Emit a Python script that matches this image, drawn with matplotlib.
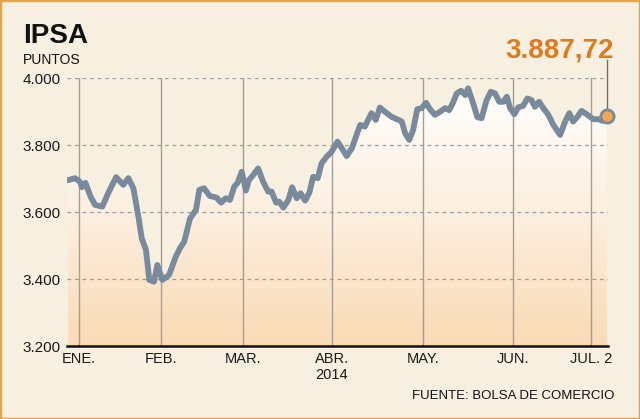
import matplotlib
matplotlib.use("Agg")
import matplotlib.pyplot as plt
import numpy as np
from matplotlib.colors import LinearSegmentedColormap
from matplotlib.patches import Polygon, Rectangle

# ── data (IPSA, puntos) ───────────────────────────────────────────────────────
sesion = [0, 1.6, 2.8, 3.3, 4.1, 5.3, 6.4, 8.1, 9.5, 11.4, 13.1, 14.3, 15.5, 16.7,
          17.5, 18.5, 19.3, 20.4, 21.2, 22.4, 24.0, 25.6, 26.6, 27.6, 29.0, 30.4,
          31.2, 32.3, 33.7, 35.3, 36.4, 37.5, 38.5, 39.5, 40.3, 41.3, 42.3, 43.0,
          44.0, 45.2, 46.4, 47.6, 48.4, 49.5, 50.2, 51.2, 52.4, 53.3, 54.4, 55.3,
          56.4, 57.4, 58.3, 59.4, 60.3, 61.5, 62.7, 64.1, 65.3, 66.3, 67.5, 69.5,
          70.6, 72.2, 73.2, 74.2, 75.4, 77.0, 78.6, 79.4, 80.2, 81.2, 82.1, 83.1,
          84.1, 85.2, 86.1, 87.3, 88.5, 89.7, 90.7, 91.7, 92.5, 93.5, 94.5, 95.2,
          96.4, 97.4, 98.4, 99.6, 100.6, 101.6, 102.6, 103.6, 104.4, 105.2, 106.2,
          107.1, 108.3, 109.3, 110.3, 111.1, 112.1, 113.1, 114.3, 115.5, 117.1,
          118.3, 119.3, 120.2, 121.2, 122.2, 123.4, 125.0, 126.2, 127.2, 128.2]
ipsa = [3695, 3701, 3690, 3674, 3687, 3646, 3621, 3616, 3656, 3704, 3681, 3701,
        3671, 3586, 3521, 3487, 3397, 3392, 3442, 3397, 3412, 3467, 3492, 3511,
        3581, 3606, 3666, 3671, 3648, 3643, 3628, 3641, 3636, 3675, 3687, 3720,
        3664, 3695, 3710, 3730, 3690, 3661, 3661, 3628, 3631, 3613, 3636, 3674,
        3641, 3656, 3634, 3658, 3705, 3701, 3745, 3765, 3780, 3810, 3787, 3767,
        3790, 3860, 3855, 3895, 3875, 3912, 3899, 3884, 3875, 3870, 3835, 3815,
        3845, 3907, 3910, 3926, 3907, 3890, 3899, 3910, 3904, 3929, 3954, 3962,
        3949, 3969, 3924, 3883, 3880, 3934, 3959, 3954, 3929, 3929, 3944, 3910,
        3892, 3912, 3917, 3939, 3934, 3914, 3929, 3910, 3890, 3860, 3830, 3870,
        3895, 3870, 3884, 3902, 3892, 3877, 3877, 3872, 3887.72]

mes_pos = [2.5, 22.1, 41.6, 62.8, 84.4, 105.8, 124.4]
mes_labels = ["ENE.", "FEB.", "MAR.", "ABR.\n2014", "MAY.", "JUN.", "JUL. 2"]
y_ticks = [3200, 3400, 3600, 3800, 4000]
y_labels = ["3.200", "3.400", "3.600", "3.800", "4.000"]

# ── style ─────────────────────────────────────────────────────────────────────
_BG = "#F7F0E1"
_LINE = "#788A9B"
_ORANGE = "#E07A1F"
_SANS = ["Liberation Sans", "DejaVu Sans"]

fig = plt.figure(figsize=(6.4, 4.19), dpi=100)
fig.patch.set_facecolor(_BG)
ax = fig.add_axes([67 / 640, 73 / 419, 541 / 640, 268 / 419])
ax.set_facecolor("none")
ax.set_xlim(-0.3, 128.5)
ax.set_ylim(3200, 4000)

# gradient fill under the curve
cmap = LinearSegmentedColormap.from_list("ipsa", ["#F9DAB4", "#FDEFE0", "#FFFFFF"])
grad = np.linspace(0, 1, 256).reshape(-1, 1)
im = ax.imshow(grad, extent=[sesion[0], sesion[-1], 3200, 4000], origin="lower",
               aspect="auto", cmap=cmap, zorder=0)
verts = np.column_stack([[sesion[0]] + sesion + [sesion[-1]],
                         [3200] + ipsa + [3200]])
clip = Polygon(verts, closed=True, facecolor="none", edgecolor="none")
ax.add_patch(clip)
im.set_clip_path(clip)

# grid
for v in y_ticks[1:]:
    ax.axhline(v, color="#9C9C9C", lw=0.9, ls=(0, (3, 3)), zorder=1)
for p in mes_pos:
    ax.axvline(p, color="#A39D95", lw=1, zorder=1)

# line + last value
ax.plot([sesion[-1], sesion[-1]], [ipsa[-1], 4054], color="#707070", lw=1,
        clip_on=False, zorder=3)
ax.plot(sesion, ipsa, color=_LINE, lw=4.2, solid_joinstyle="round",
        solid_capstyle="round", zorder=4)
ax.plot(sesion[-1], ipsa[-1], "o", ms=9.5, mfc="#F2A94F", mec=_LINE, mew=2,
        clip_on=False, zorder=5)

ultimo = f"{ipsa[-1]:,.2f}".replace(",", "X").replace(".", ",").replace("X", ".")
fig.text(614 / 640, 1 - 57 / 419, ultimo, ha="right", va="baseline",
         fontsize=20, fontweight="bold", color=_ORANGE, family=_SANS)

# axes
for s in ["top", "right", "left"]:
    ax.spines[s].set_visible(False)
ax.spines["bottom"].set_color("#111111")
ax.spines["bottom"].set_linewidth(1.8)
ax.spines["bottom"].set_zorder(6)

ax.set_yticks(y_ticks)
ax.set_yticklabels(y_labels, family=_SANS, fontsize=11, color="#1A1A1A")
ax.set_xticks(mes_pos)
ax.set_xticklabels(mes_labels, family=_SANS, fontsize=10.5, color="#1A1A1A",
                   linespacing=1.15)
ax.tick_params(axis="y", length=0, pad=4.5)
ax.tick_params(axis="x", length=0, pad=4.5)

# titles
fig.text(23 / 640, 1 - 43 / 419, "IPSA", ha="left", va="baseline", fontsize=20,
         fontweight="bold", color="#111111", family=_SANS)
fig.text(23 / 640, 1 - 64 / 419, "PUNTOS", ha="left", va="baseline", fontsize=10,
         color="#111111", family=_SANS)
fig.text(614 / 640, 1 - 399 / 419, "FUENTE: BOLSA DE COMERCIO", ha="right",
         va="baseline", fontsize=9.5, color="#111111", family=_SANS)

# frame
fig.patches.append(Rectangle((0, 0), 1, 1, transform=fig.transFigure, fill=False,
                             ec="#E6A443", lw=2.5))

plt.savefig("out.png", dpi=100, facecolor=fig.get_facecolor())
plt.close()
